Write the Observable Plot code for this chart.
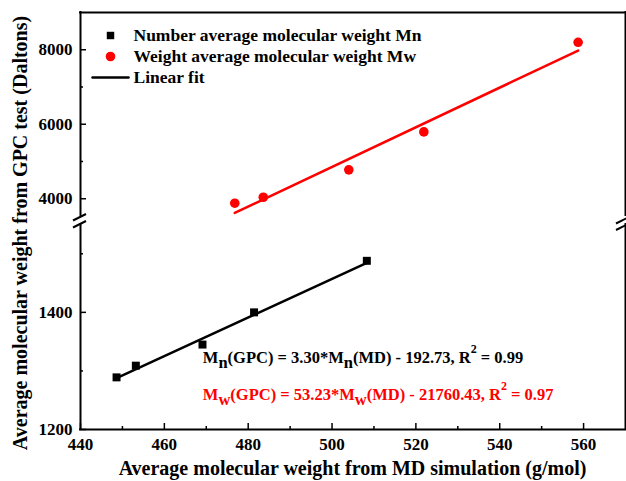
<!DOCTYPE html>
<html>
<head>
<meta charset="utf-8">
<script src="https://cdn.jsdelivr.net/npm/d3@7"></script>
<script src="https://cdn.jsdelivr.net/npm/@observablehq/plot@0.6"></script>
<style>
  html, body { margin: 0; padding: 0; background: #fff; }
  #chart { position: relative; width: 626px; height: 481px; overflow: hidden; background: #fff; }
  #chart svg { position: absolute; left: 0; overflow: visible; }
  #chart svg text { font-weight: bold; font-family: "Liberation Serif", "Times New Roman", serif; }
</style>
</head>
<body>
<div id="chart"></div>
<script>
// Molecular weights: MD simulation (x) against GPC measurement (y)
const mnMD  = [448.6, 453.2, 469.1, 481.4, 508.3];
const mnGPC = [1289, 1309, 1345, 1400, 1488];
const mwMD  = [476.8, 483.6, 504.0, 521.9, 558.7];
const mwGPC = [3880, 4040, 4775, 5795, 8200];

// Linear fits as reported on the chart
const fitMn = {slope: 3.30, intercept: -192.73, r2: 0.99};
const fitMw = {slope: 53.23, intercept: -21760.43, r2: 0.97};

// Axis ticks (the y axis is broken into an upper and a lower segment)
const xDomain = [440, 570];
const xMajor = [440, 460, 480, 500, 520, 540, 560];
const xMinor = [450, 470, 490, 510, 530, 550];
const yTopDomain = [3550, 9000];
const yTopMajor = [4000, 6000, 8000];
const yTopMinor = [5000, 7000];
const yBotDomain = [1200, 1550];
const yBotMajor = [1200, 1400];
const yBotMinor = [1300, 1500];

const legendLabels = [
  "Number average molecular weight Mn",
  "Weight average molecular weight Mw",
  "Linear fit"
];
const xTitle = "Average molecular weight from MD simulation (g/mol)";
const yTitle = "Average molecular weight from GPC test (Daltons)";

const RED = "#ff0000";
const FONT = '"Liberation Serif", "Times New Roman", serif';
const W = 626;

const mnPoints = mnMD.map((md, i) => ({md, gpc: mnGPC[i]}));
const mwPoints = mwMD.map((md, i) => ({md, gpc: mwGPC[i]}));
const fitLine = (xs, f) => [d3.min(xs), d3.max(xs)].map(x => ({x, y: f.slope * x + f.intercept}));

const style = {
  fontFamily: FONT, fontSize: "17px", fontWeight: "bold",
  color: "black", background: "transparent", overflow: "visible"
};
const frameRule = {strokeWidth: 2, strokeLinecap: "square"};
const hline = {draw(ctx, l) { ctx.moveTo(0, 0); ctx.lineTo(0, -l); }};
const majorY = {tickSize: -6, tickPadding: 14, tickFormat: "d", strokeWidth: 1.5, label: null,
  fontSize: 17, fontWeight: "bold", fontFamily: FONT};
const minorAxis = {tickSize: -3, tickFormat: () => "", strokeWidth: 1.5, label: null};
const legendText = {frameAnchor: "top-left", dx: 53, text: d => d, textAnchor: "start",
  lineAnchor: "middle", fontSize: 17.5, fontWeight: "bold", fontFamily: FONT, fill: "black"};

// Upper segment: weight-average series and legend
const topPlot = Plot.plot({
  width: W, height: 217,
  marginLeft: 80, marginRight: 1, marginTop: 12, marginBottom: 2,
  x: {domain: xDomain, axis: null},
  y: {domain: yTopDomain},
  style,
  marks: [
    Plot.axisY(yTopMajor, majorY),
    Plot.axisY(yTopMinor, minorAxis),
    Plot.ruleX([xDomain[0], xDomain[1]], frameRule),
    Plot.ruleY([yTopDomain[1]], frameRule),
    Plot.line(fitLine(mwMD, fitMw), {x: "x", y: "y", stroke: RED, strokeWidth: 2.5}),
    Plot.dot(mwPoints, {x: "md", y: "gpc", r: 4.8, fill: RED}),
    // legend
    Plot.dot([legendLabels[0]], {frameAnchor: "top-left", dx: 30, dy: 23, symbol: "square", r: 4.2, fill: "black"}),
    Plot.dot([legendLabels[1]], {frameAnchor: "top-left", dx: 30, dy: 44, r: 4.8, fill: RED}),
    Plot.vector([legendLabels[2]], {frameAnchor: "top-left", dx: 12, dy: 65, length: 36, rotate: 90,
      anchor: "start", stroke: "black", strokeWidth: 2.5, shape: hline}),
    Plot.text([legendLabels[0]], {...legendText, dy: 23}),
    Plot.text([legendLabels[1]], {...legendText, dy: 44}),
    Plot.text([legendLabels[2]], {...legendText, dy: 65})
  ]
});

// Lower segment: number-average series and the x axis
const bottomPlot = Plot.plot({
  width: W, height: 263,
  marginLeft: 80, marginRight: 1, marginTop: 6, marginBottom: 52,
  x: {domain: xDomain},
  y: {domain: yBotDomain},
  style,
  marks: [
    Plot.axisX(xMajor, {tickSize: -6, tickPadding: 14, tickFormat: "d", strokeWidth: 1.5, label: null,
      fontSize: 17, fontWeight: "bold", fontFamily: FONT}),
    Plot.axisX(xMinor, minorAxis),
    Plot.axisY(yBotMajor, majorY),
    Plot.axisY(yBotMinor, minorAxis),
    Plot.ruleX([xDomain[0], xDomain[1]], frameRule),
    Plot.ruleY([yBotDomain[0]], frameRule),
    Plot.line(fitLine(mnMD, fitMn), {x: "x", y: "y", stroke: "black", strokeWidth: 2.5}),
    Plot.dot(mnPoints, {x: "md", y: "gpc", symbol: "square", r: 4.5, fill: "black"})
  ]
});

const chart = document.getElementById("chart");
topPlot.style.top = "0px";
bottomPlot.style.top = "218px";
chart.append(topPlot, bottomPlot);

// Fit equations with sub- and superscripts
function equation(svg, x, y, fill, parts) {
  const t = d3.select(svg).append("text")
    .attr("x", x).attr("y", y).attr("fill", fill).attr("text-anchor", "start")
    .attr("font-size", 16.5);
  let shift = 0;
  for (const [s, kind] of parts) {
    const target = kind === "sub" ? 5 : kind === "sup" ? -10 : 0;
    t.append("tspan").attr("dy", target - shift)
      .attr("font-size", kind === "sup" ? 12 : 16.5)
      .text(s);
    shift = target;
  }
}
const sx = bottomPlot.scale("x"), sy = bottomPlot.scale("y");
const eqFormat = f => [Math.abs(f.slope).toFixed(2), Math.abs(f.intercept).toFixed(2), f.r2.toFixed(2)];
const [a1, b1, r1] = eqFormat(fitMn);
const [a2, b2, r2] = eqFormat(fitMw);
equation(bottomPlot, sx.apply(469.3), sy.apply(1313), "black", [
  ["M"], ["n", "sub"], [`(GPC) = ${a1}*M`], ["n", "sub"], [`(MD) - ${b1}, R`], ["2", "sup"], [` = ${r1}`]
]);
equation(bottomPlot, sx.apply(469.3), sy.apply(1249), RED, [
  ["M"], ["w", "sub"], [`(GPC) = ${a2}*M`], ["w", "sub"], [`(MD) - ${b2}, R`], ["2", "sup"], [` = ${r2}`]
]);

// Axis titles and the break symbols on the y axis
const overlay = d3.select(chart).append("svg")
  .attr("width", W).attr("height", 481)
  .style("top", "0px").style("pointer-events", "none");
overlay.append("text")
  .attr("x", 352.5).attr("y", 475).attr("text-anchor", "middle").attr("font-size", 20)
  .text(xTitle);
overlay.append("text")
  .attr("transform", "translate(27,233) rotate(-90)").attr("text-anchor", "middle").attr("font-size", 20)
  .text(yTitle);
const breaks = overlay.append("g").attr("stroke", "black").attr("stroke-width", 2);
for (const [x0, y0] of [[73, 220.5], [73, 227.5], [616, 223.5], [616, 230]]) {
  breaks.append("line").attr("x1", x0).attr("y1", y0).attr("x2", x0 + 13).attr("y2", y0 - 6.5);
}
</script>
</body>
</html>
